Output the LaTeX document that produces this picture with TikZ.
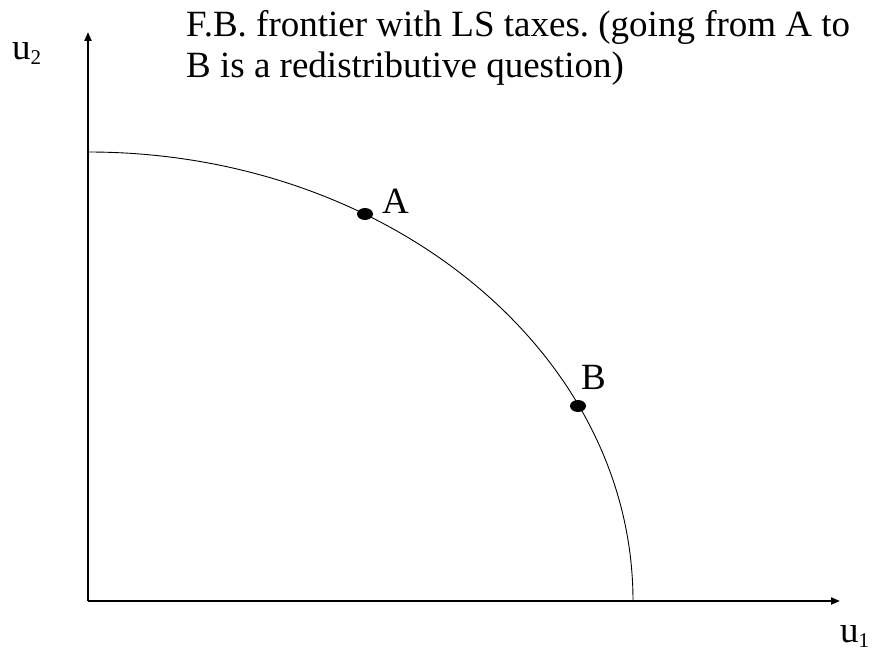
\documentclass[tikz,border=0pt]{standalone}
\usepackage{fontspec}
\setmainfont{Liberation Serif}
\usetikzlibrary{arrows.meta}
\newcommand{\mysub}[1]{\raisebox{-5pt}{\fontsize{21}{21}\selectfont #1}}
\begin{document}
\begin{tikzpicture}[x=1pt,y=-1pt,
  axis/.style={line width=2pt,-{Triangle[length=9pt,width=7pt]}},
  lbl/.style={font=\fontsize{37}{40}\selectfont\frenchspacing,inner sep=0pt}]
\useasboundingbox (0,0) rectangle (872,652);
\coordinate (O) at (88,601);
\coordinate (ytop) at (88,32);
\coordinate (xend) at (840,601);
\draw[axis] (O) -- (ytop);
\draw[axis] (O) -- (xend);
\draw[line width=0.9pt] (88,152) arc[start angle=90,end angle=0,x radius=545,y radius=-449];
\fill (365,214) ellipse[x radius=8,y radius=6];
\fill (578,406) ellipse[x radius=8,y radius=6];
\node[lbl,anchor=base west] (A) at (382,214) {A};
\node[lbl,anchor=base west] (B) at (581,389) {B};
\node[lbl,anchor=base west] (u2) at (12,60) {u\mysub{2}};
\node[lbl,anchor=base west] (u1) at (840,642) {u\mysub{1}};
\node[lbl,anchor=base west] (t1) at (186,37) {F.B. frontier with LS taxes. (going from A to};
\node[lbl,anchor=base west] (t2) at (186,78) {B is a redistributive question)};
\end{tikzpicture}
\end{document}
